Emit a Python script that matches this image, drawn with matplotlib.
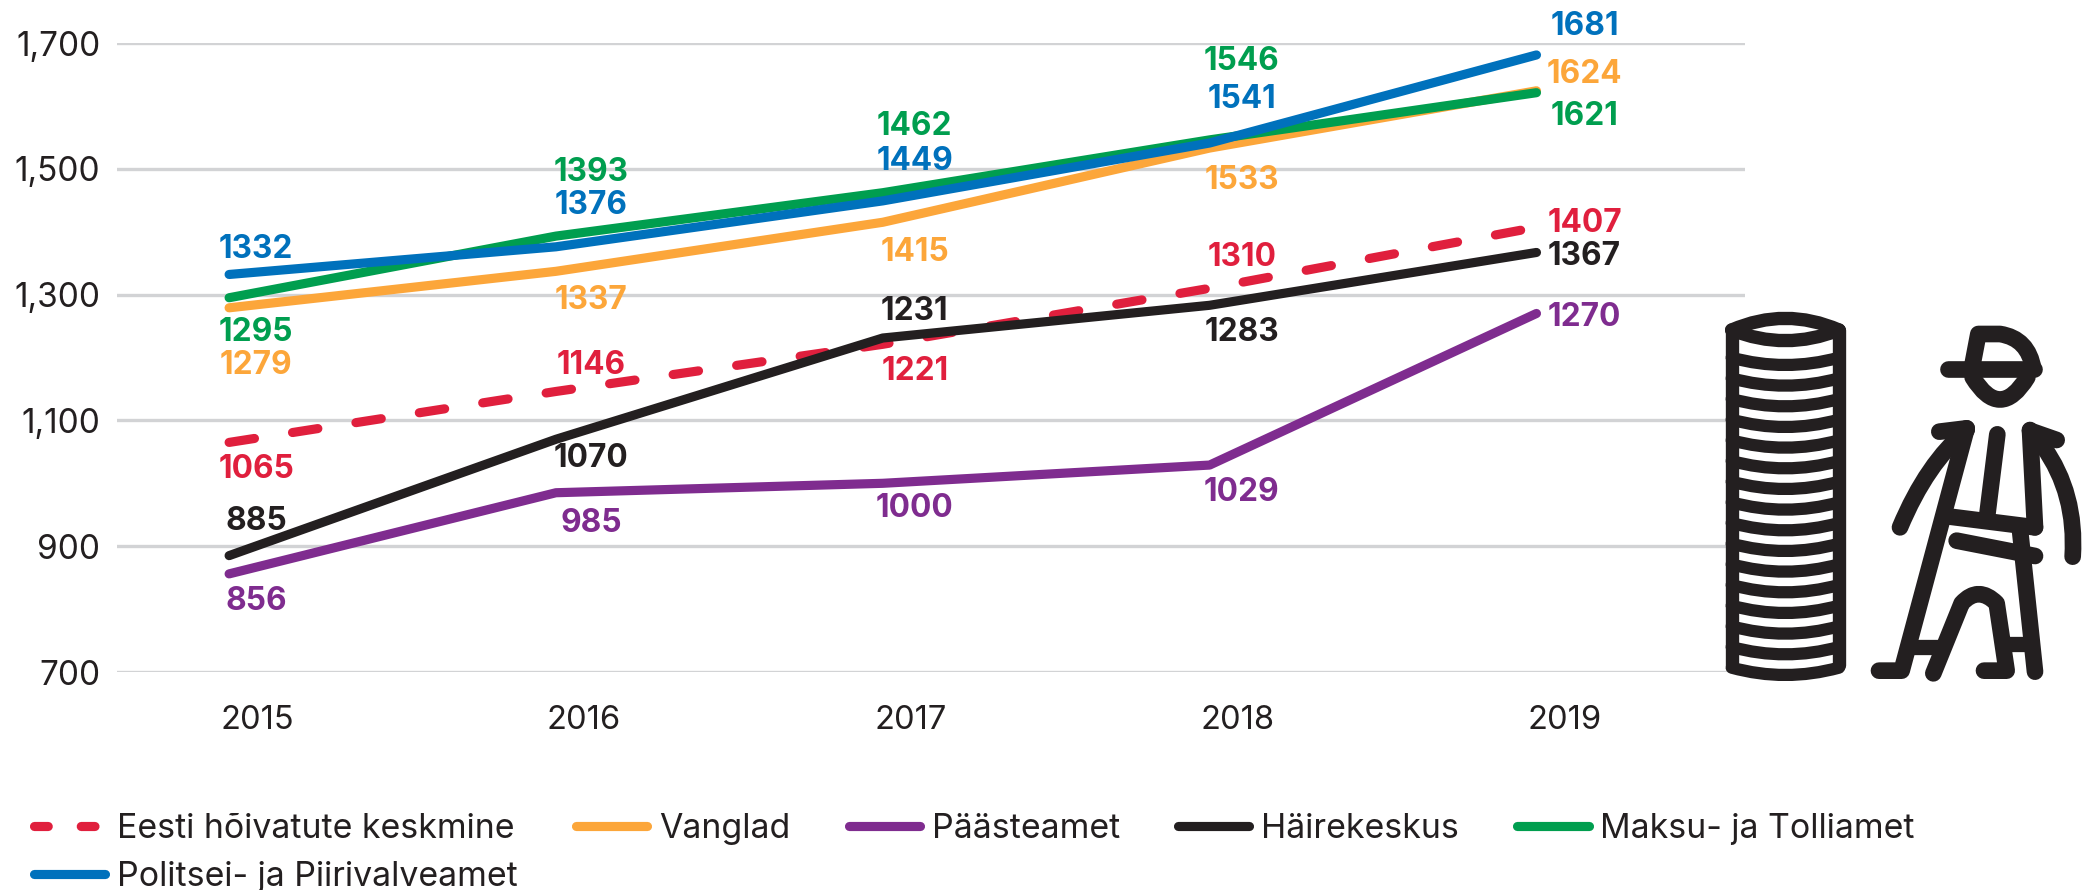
import matplotlib
matplotlib.use("Agg")
import matplotlib.pyplot as plt
from matplotlib.path import Path
from matplotlib.patches import PathPatch
from matplotlib.transforms import ScaledTranslation
from matplotlib.lines import Line2D

W, H = 2089, 890
plt.rcParams['font.family'] = ['Inter', 'DejaVu Sans']

years = ['2015', '2016', '2017', '2018', '2019']
yticks = [700, 900, 1100, 1300, 1500, 1700]

eesti = [1065, 1146, 1221, 1310, 1407]
vanglad = [1279, 1337, 1415, 1533, 1624]
paaste = [856, 985, 1000, 1029, 1270]
haire = [885, 1070, 1231, 1283, 1367]
maksu = [1295, 1393, 1462, 1546, 1621]
politsei = [1332, 1376, 1449, 1541, 1681]

names = ['Eesti hõivatute keskmine', 'Vanglad', 'Päästeamet', 'Häirekeskus',
         'Maksu- ja Tolliamet', 'Politsei- ja Piirivalveamet']
series = [eesti, vanglad, paaste, haire, maksu, politsei]
colors = ['#e01f3d', '#fca63a', '#7f2c8f', '#231f20', '#009e4f', '#0071bc']

# label offsets from the point, pixels
dx = [27, 35, 32, 32, 48]
dys = [
    [-24, 29, -24, 34, 7],
    [-55, -26, -27, -29, 19],
    [-25, -28, -22, -24, -1],
    [37, -16, 30, -24, -1],
    [-32, 67, 69, 81, -21],
    [28, 44, 42, 47, 31],
]

fig = plt.figure(figsize=(W / 100, H / 100), dpi=100)
ax = fig.add_axes([117 / W, 1 - 672 / H, (1745 - 117) / W, (672 - 43) / H])
ax.set_xlim(-0.343, 4.638)
ax.set_ylim(700, 1700)
xs = list(range(len(years)))

ax.set_yticks(yticks)
ax.set_yticklabels([f'{v:,}' for v in yticks], fontsize=24, color='#231f20')
ax.set_xticks(xs)
ax.set_xticklabels(years, fontsize=23.5, color='#231f20')
ax.tick_params(length=0, axis='y', pad=12)
ax.tick_params(length=0, axis='x', pad=24)
shift = ScaledTranslation(28 / 100, 0, fig.dpi_scale_trans)
for t in ax.get_xticklabels():
    t.set_transform(t.get_transform() + shift)
ax.grid(axis='y', color='#d2d3d5', lw=2.4, zorder=0)
ax.set_axisbelow(True)
for s in ax.spines.values():
    s.set_visible(False)

LW = 6.6
handles = []
for i, (vals, c, n) in enumerate(zip(series, colors, names)):
    ls = (0, (2.8, 4.2)) if i == 0 else '-'
    ax.plot(xs, vals, color=c, lw=LW, ls=ls, label=n,
            solid_capstyle='round', dash_capstyle='round', solid_joinstyle='round',
            clip_on=False, zorder=3 + i)
    handles.append(Line2D([0], [0], color=c, lw=LW, solid_capstyle='round', dash_capstyle='round',
                          ls=(0, (1.5, 3.6)) if i == 0 else '-'))
    for x, v, ox, oy in zip(xs, vals, dx, dys[i]):
        ax.annotate(str(v), (x, v), xytext=(ox, oy - 3), textcoords='offset pixels',
                    ha='center', va='center', color=c, fontsize=22.8, fontweight='bold', zorder=20)

order = [0, 5, 1, 2, 3, 4]
fig.legend([handles[i] for i in order], [names[i] for i in order], ncol=5, frameon=False,
           loc='lower left', bbox_to_anchor=(34 / W, 1 - 893 / H), bbox_transform=fig.transFigure,
           fontsize=24.4, labelcolor='#231f20', handlelength=2.1, handletextpad=0.35,
           columnspacing=1.72, labelspacing=0.48, borderpad=0, borderaxespad=0)

# decorative icon, drawn in crop coordinates of the picture
ov = fig.add_axes([0, 0, 1, 1], zorder=30)
ov.set_xlim(0, W)
ov.set_ylim(H, 0)
ov.axis('off')
ov.patch.set_alpha(0)
INK = '#231f20'
def Z(x, y):
    return (1680 + x / 3, 290 + y / 3)
def stroke(pts, codes=None, lw=12):
    v = [Z(*p) for p in pts]
    c = codes or [Path.MOVETO] + [Path.LINETO] * (len(v) - 1)
    ov.add_patch(PathPatch(Path(v, c), fc='none', ec=INK, lw=lw, capstyle='round', joinstyle='round'))
M, L, C3 = Path.MOVETO, Path.LINETO, Path.CURVE3
# coins
cw = 9.6
stroke([(155, 120), (155, 1125)], lw=cw)
stroke([(477, 120), (477, 1125)], lw=cw)
stroke([(155, 120), (316, 50), (477, 120)], [M, C3, C3], lw=cw)
stroke([(155, 120), (316, 184), (477, 120)], [M, C3, C3], lw=cw)
for k in range(1, 17):
    mid = 225 + 62 * (k - 1)
    stroke([(155, mid - 22), (316, mid + 22), (477, mid - 22)], [M, C3, C3], lw=8.8)
# person
stroke([(805, 237), (1062, 237)])
stroke([(875, 237), (895, 132), (960, 132), (1045, 145), (1060, 237)], [M, L, L, C3, C3])
stroke([(878, 262), (960, 395), (1042, 262)], [M, C3, C3])
stroke([(778, 425), (860, 415)])
stroke([(860, 420), (740, 520), (660, 712)], [M, C3, C3])
stroke([(860, 415), (665, 1142), (597, 1142)])
stroke([(952, 433), (920, 690)])
stroke([(810, 680), (1065, 712)])
stroke([(1050, 420), (1065, 712)])
stroke([(1050, 422), (1130, 450)])
stroke([(1090, 470), (1190, 610), (1178, 800)], [M, C3, C3])
stroke([(830, 752), (1065, 798)])
stroke([(1020, 720), (1065, 1145)])
stroke([(760, 1150), (845, 940), (895, 885), (950, 940), (980, 1142), (912, 1142)], [M, L, C3, C3, L, L])
stroke([(700, 1070), (785, 1070)], lw=11)
stroke([(985, 1062), (1040, 1062)], lw=11)

fig.savefig('out.png', dpi=100)
